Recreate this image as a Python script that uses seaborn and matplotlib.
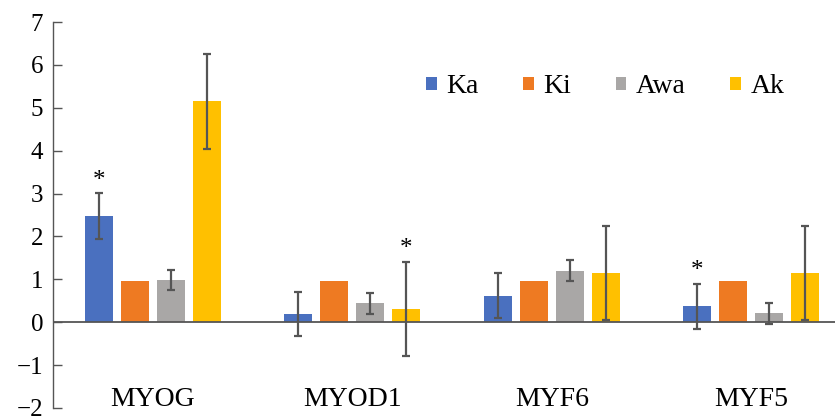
import numpy as np
import pandas as pd
import matplotlib
matplotlib.use('Agg')
import matplotlib.pyplot as plt
from matplotlib.patches import Patch
import seaborn as sns

genes = ['MYOG', 'MYOD1', 'MYF6', 'MYF5']
groups = ['Ka', 'Ki', 'Awa', 'Ak']

# mean expression per group
ka = [2.48, 0.19, 0.62, 0.37]
ki = [0.97, 0.96, 0.96, 0.96]
awa = [0.98, 0.44, 1.20, 0.21]
ak = [5.15, 0.31, 1.15, 1.15]

# error bar half-lengths (Ki has none)
ka_err = [0.53, 0.52, 0.53, 0.53]
ki_err = [np.nan, np.nan, np.nan, np.nan]
awa_err = [0.24, 0.24, 0.24, 0.24]
ak_err = [1.10, 1.10, 1.10, 1.10]

# significance stars: (gene, group)
stars = [('MYOG', 'Ka'), ('MYOD1', 'Ak'), ('MYF5', 'Ka')]

colors = ['#4A70BF', '#EE7A22', '#A9A7A6', '#FFC000']

values = {'Ka': ka, 'Ki': ki, 'Awa': awa, 'Ak': ak}
errors = {'Ka': ka_err, 'Ki': ki_err, 'Awa': awa_err, 'Ak': ak_err}

df = pd.DataFrame({
    'Gene': genes * len(groups),
    'Group': np.repeat(groups, len(genes)),
    'Value': ka + ki + awa + ak,
})

plt.rcParams['font.family'] = ['Liberation Serif', 'DejaVu Serif']

fig = plt.figure(figsize=(8.35, 4.2), dpi=100)
ax = fig.add_axes([53 / 835, 12 / 420, 798 / 835, 386 / 420])

sns.barplot(data=df, x='Gene', y='Value', hue='Group', order=genes,
            hue_order=groups, palette=colors, width=0.72, gap=0.22,
            errorbar=None, legend=False, ax=ax, linewidth=0, saturation=1)

for cont, grp in zip(ax.containers, groups):
    xs = [b.get_x() + b.get_width() / 2 for b in cont]
    ax.errorbar(xs, values[grp], yerr=errors[grp], fmt='none',
                ecolor='#555555', elinewidth=1.6, capsize=3.2, capthick=1.6,
                zorder=3)
    for gene, sgrp in stars:
        if sgrp == grp:
            i = genes.index(gene)
            ax.annotate('*', (xs[i], values[grp][i] + errors[grp][i]),
                        xytext=(0, 1), textcoords='offset points',
                        ha='center', va='bottom', fontsize=18)

ax.axhline(0, color='#555555', linewidth=1.3, zorder=2)

ax.set_ylim(-2, 7)
ax.set_xlim(-0.5, 3.5)
ax.set_yticks(range(-2, 8))
ax.set_xlabel('')
ax.set_ylabel('')
for s in ['top', 'right', 'bottom']:
    ax.spines[s].set_visible(False)
ax.spines['left'].set_color('#555555')
ax.spines['left'].set_linewidth(1.0)
ax.tick_params(axis='y', direction='in', length=6.5, width=1.0,
               color='#555555', labelsize=18, pad=7)
ax.tick_params(axis='x', length=0, labelsize=20, pad=-15)

handles = [Patch(facecolor=c, edgecolor='none') for c in colors]
ax.legend(handles, groups, ncol=4, frameon=False, fontsize=20,
          loc='center', bbox_to_anchor=(0.692, 0.832),
          handlelength=0.38, handleheight=0.38, handletextpad=0.35,
          columnspacing=1.6)

fig.savefig('out.png', dpi=100)
